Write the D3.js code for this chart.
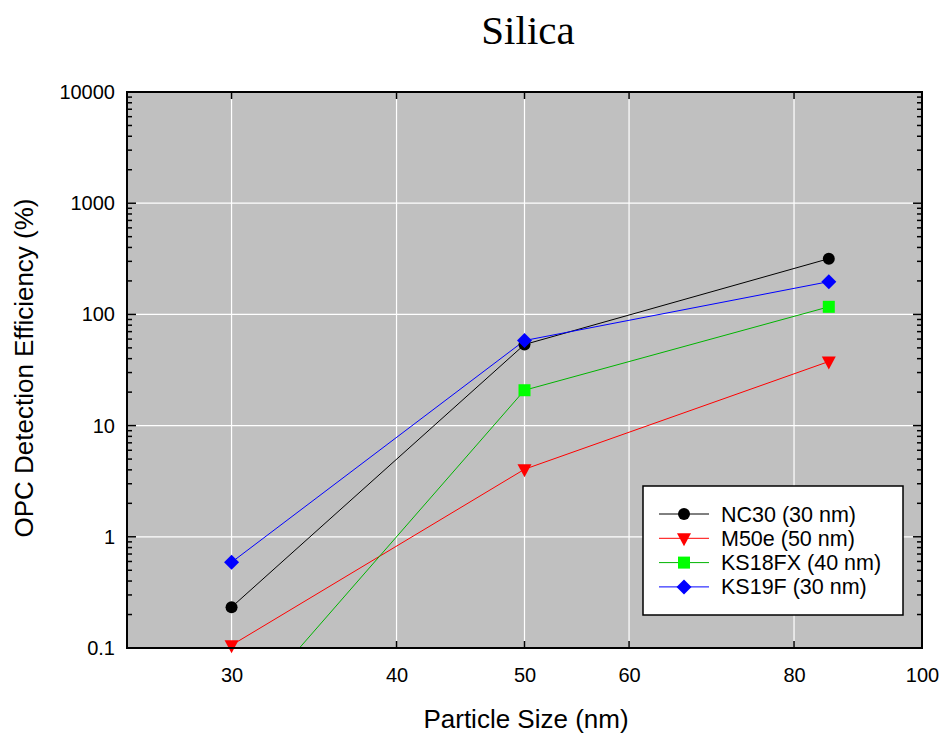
<!DOCTYPE html>
<html><head><meta charset="utf-8">
<script src="https://cdn.jsdelivr.net/npm/d3@7"></script>
<style>body{margin:0;background:#fff}</style>
</head><body>
<svg id="c" width="943" height="736"></svg>
<script>
const sizes = [30, 50, 85];
const xTicks = [30, 40, 50, 60, 80, 100];
const yTicks = [0.1, 1, 10, 100, 1000, 10000];
const nc30 = [0.233, 53.6, 317];
const m50e = [0.106, 4.05, 37.7];
const ks18fx = [0.02, 20.8, 117];
const ks19f = [0.59, 58.2, 197];
const seriesNames = ["NC30 (30 nm)", "M50e (50 nm)", "KS18FX (40 nm)", "KS19F (30 nm)"];
const lineColors = ["#000000", "#ff0000", "#00b400", "#0000ff"];
const markerColors = ["#000000", "#ff0000", "#00ff00", "#0000ff"];
const markerTypes = ["circle", "triangleDown", "square", "diamond"];
const allValues = [nc30, m50e, ks18fx, ks19f];

const SANS = "Arial, 'Liberation Sans', sans-serif";
const svg = d3.select("#c");
const L = 127, R = 922, T = 92, B = 648;
const x = d3.scaleLog().domain([25, 100]).range([L, R]);
const y = d3.scaleLog().domain([0.1, 10000]).range([B, T]);

svg.append("rect").attr("x", L).attr("y", T).attr("width", R - L).attr("height", B - T).attr("fill", "#c0c0c0");

// grid
svg.append("g").selectAll("line").data(xTicks.filter(d => d < 100)).join("line")
  .attr("x1", d => x(d)).attr("x2", d => x(d)).attr("y1", T).attr("y2", B)
  .attr("stroke", "#ffffff").attr("stroke-width", 1.2);
svg.append("g").selectAll("line").data(yTicks.filter(d => d > 0.1 && d < 10000)).join("line")
  .attr("y1", d => y(d)).attr("y2", d => y(d)).attr("x1", L).attr("x2", R)
  .attr("stroke", "#ffffff").attr("stroke-width", 1.2);

// minor ticks y
const minor = [];
for (let e = -1; e < 4; e++) for (let k = 2; k <= 9; k++) minor.push(k * Math.pow(10, e));
const tg = svg.append("g").attr("stroke", "#000").attr("stroke-width", 1.5);
minor.forEach(v => {
  tg.append("line").attr("x1", L).attr("x2", L + 5).attr("y1", y(v)).attr("y2", y(v));
  tg.append("line").attr("x1", R).attr("x2", R - 5).attr("y1", y(v)).attr("y2", y(v));
});
yTicks.forEach(v => {
  tg.append("line").attr("x1", L).attr("x2", L + 9).attr("y1", y(v)).attr("y2", y(v));
  tg.append("line").attr("x1", R).attr("x2", R - 9).attr("y1", y(v)).attr("y2", y(v));
});
xTicks.forEach(v => {
  tg.append("line").attr("x1", x(v)).attr("x2", x(v)).attr("y1", B).attr("y2", B - 7);
  tg.append("line").attr("x1", x(v)).attr("x2", x(v)).attr("y1", T).attr("y2", T + 7);
});

// axes labels via d3 axes
const xAxis = svg.append("g").attr("transform", `translate(0,${B})`)
  .call(d3.axisBottom(x).tickValues(xTicks).tickFormat(d3.format("d")).tickSize(0).tickPadding(20));
xAxis.select(".domain").remove();
xAxis.selectAll("text").attr("font-family", SANS).attr("font-size", 20).attr("fill", "#000");
const yAxis = svg.append("g").attr("transform", `translate(${L},0)`)
  .call(d3.axisLeft(y).tickValues(yTicks).tickFormat(d => d < 1 ? "0.1" : d3.format("d")(d)).tickSize(0).tickPadding(12));
yAxis.select(".domain").remove();
yAxis.selectAll("text").attr("font-family", SANS).attr("font-size", 20).attr("fill", "#000");

// clip
svg.append("clipPath").attr("id", "clip").append("rect").attr("x", L).attr("y", T).attr("width", R - L).attr("height", B - T);

const line = d3.line().x((d, i) => x(sizes[i])).y(d => y(d));
const plot = svg.append("g").attr("clip-path", "url(#clip)");

function marker(g, type, cx, cy, color, s) {
  if (type === "circle") g.append("circle").attr("cx", cx).attr("cy", cy).attr("r", 6 * s).attr("fill", color);
  else if (type === "square") g.append("rect").attr("x", cx - 6 * s).attr("y", cy - 6 * s).attr("width", 12 * s).attr("height", 12 * s).attr("fill", color);
  else if (type === "diamond") g.append("path").attr("d", `M${cx},${cy - 7.5 * s}L${cx + 7.5 * s},${cy}L${cx},${cy + 7.5 * s}L${cx - 7.5 * s},${cy}Z`).attr("fill", color);
  else g.append("path").attr("d", `M${cx - 7 * s},${cy - 5 * s}L${cx + 7 * s},${cy - 5 * s}L${cx},${cy + 8 * s}Z`).attr("fill", color);
}

allValues.forEach((vals, si) => {
  plot.append("path").datum(vals).attr("d", line).attr("fill", "none").attr("stroke", lineColors[si]).attr("stroke-width", 1);
});
allValues.forEach((vals, si) => {
  vals.forEach((v, i) => {
    if (v >= 0.1) marker(svg, markerTypes[si], x(sizes[i]), y(v), markerColors[si], 1);
  });
});

// frame
svg.append("rect").attr("x", L).attr("y", T).attr("width", R - L).attr("height", B - T).attr("fill", "none").attr("stroke", "#000").attr("stroke-width", 2);

// legend
const lg = svg.append("g");
lg.append("rect").attr("x", 643).attr("y", 486).attr("width", 260).attr("height", 129).attr("fill", "#fff").attr("stroke", "#000").attr("stroke-width", 1.5);
seriesNames.forEach((n, i) => {
  const yy = 514 + i * 24.3;
  lg.append("line").attr("x1", 659).attr("x2", 709).attr("y1", yy).attr("y2", yy).attr("stroke", lineColors[i]).attr("stroke-width", 1);
  marker(lg, markerTypes[i], 684, yy, markerColors[i], 1);
  lg.append("text").attr("x", 721).attr("y", yy + 7.5).text(n)
    .attr("font-family", SANS).attr("font-size", 21.5).attr("fill", "#000");
});

// titles
svg.append("text").attr("x", 528).attr("y", 44).attr("text-anchor", "middle").text("Silica")
  .attr("font-family", "'Times New Roman', 'Liberation Serif', serif").attr("font-size", 41).attr("fill", "#000");
svg.append("text").attr("x", 526).attr("y", 728).attr("text-anchor", "middle").text("Particle Size (nm)")
  .attr("font-family", SANS).attr("font-size", 26).attr("fill", "#000");
svg.append("text").attr("transform", "translate(33,368) rotate(-90)").attr("text-anchor", "middle").text("OPC Detection Efficiency (%)")
  .attr("font-family", SANS).attr("font-size", 26).attr("fill", "#000");
</script>
</body></html>
